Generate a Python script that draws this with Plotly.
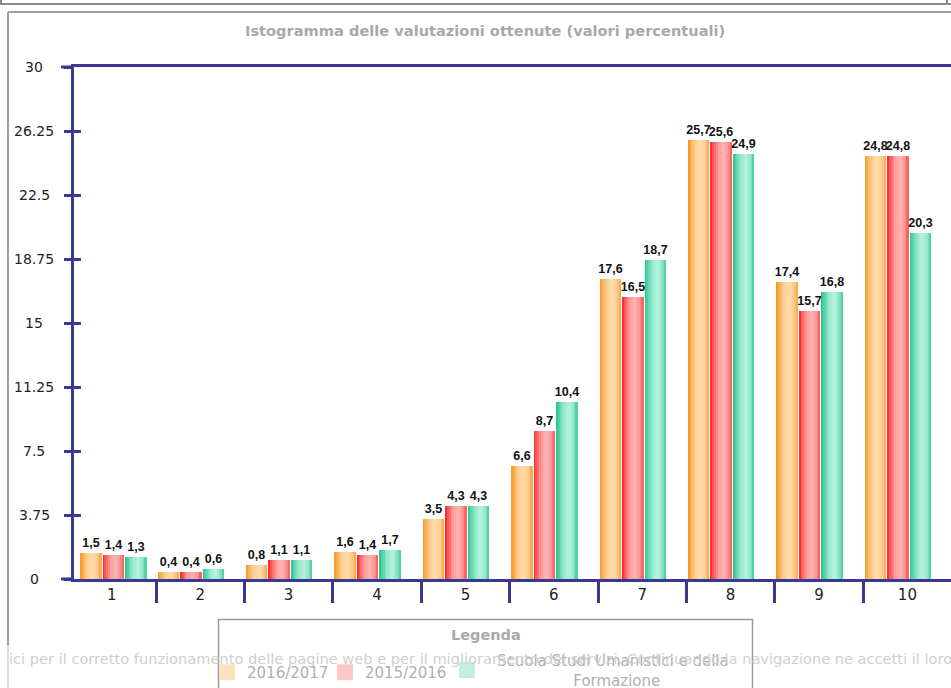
import plotly.graph_objects as go

# ---------------- data ----------------
categories = [1, 2, 3, 4, 5, 6, 7, 8, 9, 10]
series_names = ["2016/2017", "2015/2016",
                "Scuola Studi Umanistici e della<br>" + "\u00a0" * 16 + "Formazione"]
values_2016_2017 = [1.5, 0.4, 0.8, 1.6, 3.5, 6.6, 17.6, 25.7, 17.4, 24.8]
values_2015_2016 = [1.4, 0.4, 1.1, 1.4, 4.3, 8.7, 16.5, 25.6, 15.7, 24.8]
values_scuola = [1.3, 0.6, 1.1, 1.7, 4.3, 10.4, 18.7, 24.9, 16.8, 20.3]
y_tick_values = [0, 3.75, 7.5, 11.25, 15, 18.75, 22.5, 26.25, 30]
y_tick_labels = ["0", "3.75", "7.5", "11.25", "15", "18.75", "22.5", "26.25", "30"]
title_text = "Istogramma delle valutazioni ottenute (valori percentuali)"
legend_title = "Legenda"
cookie_text = ("ici per il corretto funzionamento delle pagine web e per il miglioramento "
               "dei servizi. Continuando la navigazione ne accetti il loro")

series_values = [values_2016_2017, values_2015_2016, values_scuola]

# ---------------- styling ----------------
W, H = 951, 688
L, R, T, B = 74, 0, 67, 109
PW, PH = W - L - R, H - T - B
AX = "#3a3890"
u = 1 / 88.4  # data units per pixel along x

def px_x(px):
    return (px - L) / PW

def px_y(py):
    return (H - B - py) / PH

gradients = [
    [(0, "#f7931e"), (0.12, "#fbab48"), (0.35, "#fdcf96"), (0.6, "#ffdcab"), (0.85, "#fcc888"), (1, "#f7a445")],
    [(0, "#ff1a1a"), (0.12, "#ff5252"), (0.35, "#ff9a9a"), (0.6, "#ffb3b3"), (0.85, "#ff9090"), (1, "#f45757")],
    [(0, "#22bf88"), (0.12, "#4bd2a3"), (0.35, "#94e8cb"), (0.6, "#b9f3df"), (0.85, "#8be3c4"), (1, "#3acb94")],
]
legend_colors = ["#fde0bd", "#ffc6c6", "#c2f0df"]
legend_refs = ["legend", "legend2", "legend3"]

def hex2rgb(h):
    h = h.lstrip("#")
    return tuple(int(h[i:i + 2], 16) for i in (0, 2, 4))

def grad_color(stops, t):
    for (t0, c0), (t1, c1) in zip(stops[:-1], stops[1:]):
        if t0 <= t <= t1:
            f = (t - t0) / (t1 - t0) if t1 > t0 else 0
            a, b = hex2rgb(c0), hex2rgb(c1)
            return "rgb(%d,%d,%d)" % tuple(round(a[i] + (b[i] - a[i]) * f) for i in range(3))
    return stops[-1][1]

pitch = 22.5 * u
barw = 21.5 * u
group_start = [(-0.5 + 12.4 * u) if i == 0 else (-0.5 + 1.5 * u) for i in range(len(categories))]
N = 12
stripe = barw / N

fig = go.Figure()

for s, vals in enumerate(series_values):
    for j in range(N):
        col = grad_color(gradients[s], (j + 0.5) / N)
        w = stripe * (1.6 if j < N - 1 else 1.0)
        fig.add_trace(go.Bar(
            x=categories, y=vals,
            width=w,
            offset=[g + s * pitch + j * stripe for g in group_start],
            marker=dict(color=col, line=dict(width=0)),
            showlegend=False, hoverinfo="skip",
        ))

# value labels
for s, vals in enumerate(series_values):
    fig.add_trace(go.Bar(
        x=categories, y=vals, width=barw,
        offset=[g + s * pitch for g in group_start],
        marker=dict(color="rgba(0,0,0,0)", line=dict(width=0)),
        text=[("%.1f" % v).replace(".", ",") for v in vals],
        textposition="outside", textangle=0, constraintext="none", cliponaxis=False,
        textfont=dict(family="Liberation Sans Narrow, Arial Narrow, Liberation Sans", size=12.5,
                      color="#111", weight="bold"),
        showlegend=False, hoverinfo="skip", yaxis="y2",
    ))

# legend entries
for s, name in enumerate(series_names):
    fig.add_trace(go.Scatter(
        x=[None], y=[None], mode="markers", name=name, legend=legend_refs[s],
        marker=dict(symbol="square", size=20, color=legend_colors[s], line=dict(width=0)),
    ))

annotations = [
    dict(text="<b>%s</b>" % title_text, xref="paper", yref="paper",
         x=px_x(485), y=px_y(30), xanchor="center", yanchor="middle", showarrow=False,
         font=dict(family="DejaVu Sans", size=14.6, color="#a9a9a9")),
    dict(text="<b>%s</b>" % legend_title, xref="paper", yref="paper",
         x=px_x(486), y=px_y(635), xanchor="center", yanchor="middle", showarrow=False,
         font=dict(family="DejaVu Sans", size=14.5, color="#a9a9a9")),
]
for v, lab in zip(y_tick_values, y_tick_labels):
    annotations.append(dict(text=lab, xref="paper", yref="y", x=px_x(34), y=v,
                            xanchor="center", yanchor="middle", showarrow=False,
                            font=dict(family="DejaVu Sans", size=14, color="#222")))
annotations.append(dict(text=cookie_text, xref="paper", yref="paper", x=px_x(7), y=px_y(658),
                        xanchor="left", yanchor="middle", showarrow=False,
                        font=dict(family="DejaVu Sans", size=14.6, color="#cfcfcf")))

shapes = [
    dict(type="line", xref="paper", yref="paper", x0=px_x(0), x1=px_x(951), y0=px_y(4), y1=px_y(4),
         line=dict(color="#8a8a8a", width=2)),
    dict(type="line", xref="paper", yref="paper", x0=px_x(1), x1=px_x(1), y0=px_y(0), y1=px_y(4),
         line=dict(color="#8a8a8a", width=2)),
    dict(type="line", xref="paper", yref="paper", x0=px_x(947), x1=px_x(947), y0=px_y(0), y1=px_y(4),
         line=dict(color="#8a8a8a", width=2)),
    dict(type="line", xref="paper", yref="paper", x0=px_x(8), x1=px_x(951), y0=px_y(12), y1=px_y(12),
         line=dict(color="#a0a0a0", width=2)),
    dict(type="line", xref="paper", yref="paper", x0=px_x(8), x1=px_x(8), y0=px_y(12), y1=px_y(645),
         line=dict(color="#a0a0a0", width=2)),
    dict(type="line", xref="paper", yref="paper", x0=px_x(8), x1=px_x(8), y0=px_y(645), y1=px_y(688),
         line=dict(color="#dcdcdc", width=2)),
    dict(type="line", xref="paper", yref="paper", x0=px_x(61), x1=px_x(74), y0=px_y(67), y1=px_y(67),
         line=dict(color=AX, width=3)),
    dict(type="line", xref="paper", yref="paper", x0=px_x(61), x1=px_x(74), y0=px_y(579), y1=px_y(579),
         line=dict(color=AX, width=3)),
    # legend frame
    dict(type="rect", xref="paper", yref="paper", x0=px_x(218.5), x1=px_x(752.5),
         y0=px_y(619.5), y1=px_y(700), line=dict(color="#9a9a9a", width=1.5),
         fillcolor="rgba(0,0,0,0)"),
]

legend_common = dict(
    orientation="h", xanchor="left", yanchor="top",
    bgcolor="rgba(255,255,255,0)", borderwidth=0,
    font=dict(family="DejaVu Sans", size=15, color="#b0b0b0"),
    itemsizing="trace", traceorder="normal",
)

fig.update_layout(
    width=W, height=H,
    margin=dict(l=L, r=R, t=T, b=B, pad=0, autoexpand=False),
    paper_bgcolor="white", plot_bgcolor="white",
    barmode="overlay", bargap=0,
    showlegend=True,
    legend=dict(legend_common, x=px_x(207), y=px_y(656)),
    legend2=dict(legend_common, x=px_x(325), y=px_y(656)),
    legend3=dict(legend_common, x=px_x(437), y=px_y(644), itemwidth=50),
    xaxis=dict(
        range=[0.5 + (L - 67.6) * u, 0.5 + (W - 67.6) * u],
        showline=True, linecolor=AX, linewidth=3, mirror=True,
        ticks="", tickmode="array", tickvals=categories, ticktext=[str(c) for c in categories],
        tickfont=dict(family="DejaVu Sans", size=15, color="#222"),
        showgrid=False, zeroline=False, fixedrange=True,
        minor=dict(ticks="outside", tickmode="array",
                   tickvals=[c + 0.5 for c in categories], ticklen=21, tickwidth=3,
                   tickcolor=AX, showgrid=False),
    ),
    yaxis=dict(
        range=[0, 30], showline=True, linecolor=AX, linewidth=3,
        ticks="outside", ticklen=7, tickwidth=3, tickcolor=AX,
        tickmode="array", tickvals=y_tick_values, showticklabels=False,
        showgrid=False, zeroline=False, fixedrange=True,
    ),
    yaxis2=dict(
        range=[0, 30], overlaying="y", side="left", anchor="x", showline=False,
        ticks="inside", ticklen=7, tickwidth=3, tickcolor=AX,
        tickmode="array", tickvals=y_tick_values, showticklabels=False,
        showgrid=False, zeroline=False, fixedrange=True,
    ),
    annotations=annotations,
    shapes=shapes,
)

fig.write_html("out.html", config={"displayModeBar": False},
               post_script="document.body.style.margin='0';document.body.style.overflow='hidden';")
